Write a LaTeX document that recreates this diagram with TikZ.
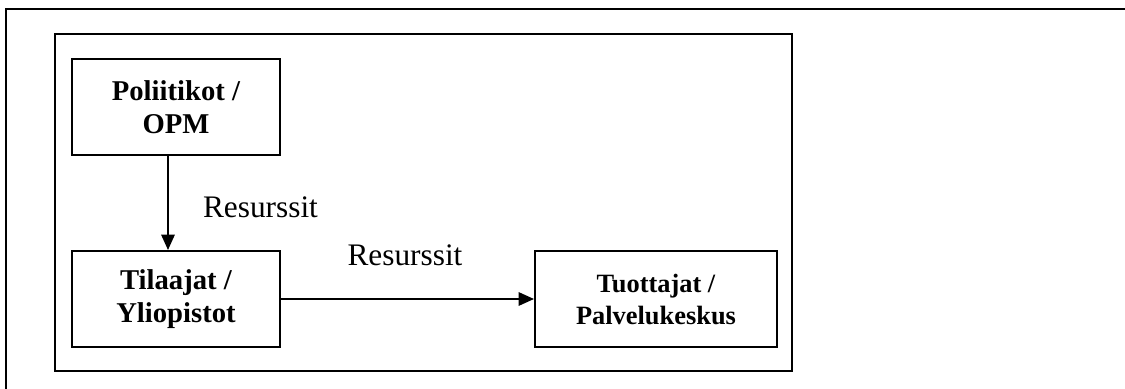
\documentclass[tikz,border=0pt]{standalone}
\usepackage{fontspec}
\setmainfont{Liberation Serif}
\usetikzlibrary{arrows.meta}
\begin{document}
\begin{tikzpicture}[x=0.75pt,y=-0.75pt,
  frame/.style={draw=black,line width=1.5pt},
  actor/.style={draw=black,line width=1.5pt,rectangle,align=center,inner sep=0pt,
    font=\fontsize{21.5}{24.75}\selectfont\bfseries},
  flow/.style={draw=black,line width=1.4pt,-{Triangle[width=10pt,length=11.5pt]}},
  flowlabel/.style={font=\fontsize{23.5}{26}\selectfont,inner sep=0pt}]
  \useasboundingbox (0,0) rectangle (1125,389);
  \clip (0,0) rectangle (1125,389);
  % outer page frame, running off the right and bottom edges
  \draw[frame] (6,9) rectangle (1140,400);
  % inner frame
  \draw[frame] (55,34) rectangle (792,371);
  % actors
  \node[actor,minimum width=208*0.75pt,minimum height=96*0.75pt] (pol) at (176,107)
    {Poliitikot /\\OPM};
  \node[actor,minimum width=208*0.75pt,minimum height=96*0.75pt] (til) at (176,299)
    {Tilaajat /\\Yliopistot};
  \node[actor,minimum width=242*0.75pt,minimum height=96*0.75pt,
    font=\fontsize{19.8}{24}\selectfont\bfseries] (tuo) at (656,299)
    {Tuottajat /\\Palvelukeskus};
  % resource flows
  \draw[flow] ([xshift=-6pt]pol.south) -- ([xshift=-6pt]til.north);
  \draw[flow] (til.east) -- (tuo.west);
  \node[flowlabel] (r1) at (260.5,207) {Resurssit};
  \node[flowlabel] (r2) at (405,255) {Resurssit};
\end{tikzpicture}
\end{document}
